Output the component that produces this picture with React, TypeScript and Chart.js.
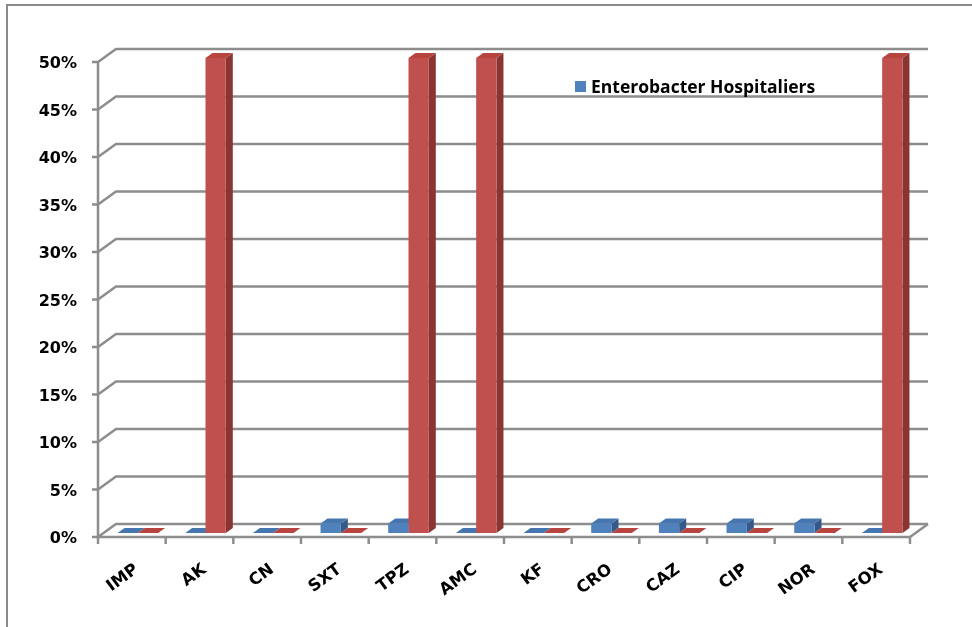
import React, { useEffect, useRef } from 'react';
import { Chart, registerables } from 'chart.js';

Chart.register(...registerables);

const categories = ['IMP', 'AK', 'CN', 'SXT', 'TPZ', 'AMC', 'KF', 'CRO', 'CAZ', 'CIP', 'NOR', 'FOX'];
const hospitaliers = [0, 0, 0, 1, 1, 0, 0, 1, 1, 1, 1, 0];
const secondSeries = [0, 50, 0, 0, 50, 50, 0, 0, 0, 0, 0, 50];
const legendLabel = 'Enterobacter Hospitaliers';
const yMax = 50;
const yStep = 5;

const FONT = "'Open Sans', 'DejaVu Sans', sans-serif";
const AXIS_FONT = "'DejaVu Sans', sans-serif";
const GRID = '#8d8d8d';
const WALL = { x: 18, y: -13 };
const BAR_OFF = { x: 6, y: -4 };
const BAR_DEPTH = { x: 7, y: -5 };

const shade: Record<string, { front: string; side: string; top: string }> = {
  blue: { front: '#4F81BD', side: '#36598A', top: '#4676B0' },
  red: { front: '#C0504D', side: '#8A3533', top: '#B8443F' },
};

const threeD = {
  id: 'threeD',
  beforeDraw(chart: any) {
    const ctx = chart.ctx;
    ctx.save();
    ctx.strokeStyle = '#8a8a8a';
    ctx.lineWidth = 2;
    ctx.strokeRect(7, 5, 1100, 1000);
    ctx.restore();
  },
  beforeDatasetsDraw(chart: any) {
    const ctx = chart.ctx;
    const { left, right, bottom } = chart.chartArea;
    const yScale = chart.scales.y;
    const xScale = chart.scales.x;
    ctx.save();
    ctx.strokeStyle = GRID;
    ctx.lineWidth = 2.5;
    for (let v = 0; v <= yMax; v += yStep) {
      const py = yScale.getPixelForValue(v);
      ctx.beginPath();
      ctx.moveTo(left - 6, py);
      ctx.lineTo(left, py);
      ctx.lineTo(left + WALL.x, py + WALL.y);
      ctx.lineTo(right + WALL.x, py + WALL.y);
      ctx.stroke();
    }
    ctx.beginPath();
    ctx.moveTo(left, bottom);
    ctx.lineTo(right, bottom);
    ctx.lineTo(right + WALL.x, bottom + WALL.y);
    ctx.stroke();
    ctx.beginPath();
    ctx.moveTo(left, yScale.getPixelForValue(yMax));
    ctx.lineTo(left, bottom);
    ctx.stroke();
    const n = categories.length;
    const step = xScale.getPixelForValue(1) - xScale.getPixelForValue(0);
    for (let i = 0; i <= n; i++) {
      const px = i < n ? xScale.getPixelForValue(i) - step / 2 : right;
      ctx.beginPath();
      ctx.moveTo(px, bottom);
      ctx.lineTo(px, bottom + 7);
      ctx.stroke();
    }
    const colors = ['blue', 'red'];
    chart.data.datasets.forEach((_: any, di: number) => {
      const meta = chart.getDatasetMeta(di);
      const c = shade[colors[di]];
      meta.data.forEach((el: any) => {
        const { x, y, base, width } = el.getProps(['x', 'y', 'base', 'width'], true);
        const x1 = x - width / 2 + BAR_OFF.x;
        const x2 = x + width / 2 + BAR_OFF.x;
        const yt = y + BAR_OFF.y;
        const yb = base + BAR_OFF.y;
        ctx.fillStyle = c.side;
        ctx.beginPath();
        ctx.moveTo(x2, yt);
        ctx.lineTo(x2 + BAR_DEPTH.x, yt + BAR_DEPTH.y);
        ctx.lineTo(x2 + BAR_DEPTH.x, yb + BAR_DEPTH.y);
        ctx.lineTo(x2, yb);
        ctx.closePath();
        ctx.fill();
        ctx.fillStyle = c.top;
        ctx.beginPath();
        ctx.moveTo(x1, yt);
        ctx.lineTo(x2, yt);
        ctx.lineTo(x2 + BAR_DEPTH.x, yt + BAR_DEPTH.y);
        ctx.lineTo(x1 + BAR_DEPTH.x, yt + BAR_DEPTH.y);
        ctx.closePath();
        ctx.fill();
      });
    });
    ctx.restore();
    ctx.save();
    ctx.translate(BAR_OFF.x, BAR_OFF.y);
  },
  afterDatasetsDraw(chart: any) {
    chart.ctx.restore();
  },
  afterDraw(chart: any) {
    const ctx = chart.ctx;
    ctx.save();
    ctx.fillStyle = shade.blue.front;
    ctx.fillRect(575, 81, 11, 11);
    ctx.fillStyle = '#000';
    ctx.font = `bold 17.5px ${FONT}`;
    ctx.textBaseline = 'alphabetic';
    ctx.textAlign = 'left';
    ctx.fillText(legendLabel, 591, 93);
    ctx.restore();
  },
};

export default function App() {
  const ref = useRef<HTMLCanvasElement>(null);
  useEffect(() => {
    if (!ref.current) return;
    const chart = new Chart(ref.current, {
      type: 'bar',
      data: {
        labels: categories,
        datasets: [
          { label: legendLabel, data: hospitaliers, backgroundColor: shade.blue.front, borderWidth: 0 },
          { label: '', data: secondSeries, backgroundColor: shade.red.front, borderWidth: 0 },
        ],
      },
      plugins: [threeD],
      options: {
        responsive: false,
        animation: false,
        devicePixelRatio: 1,
        layout: { padding: { left: 0, top: 62, right: 62, bottom: 0 } },
        datasets: { bar: { categoryPercentage: 0.6, barPercentage: 1.0 } },
        plugins: { legend: { display: false }, tooltip: { enabled: false } },
        scales: {
          x: {
            grid: { display: false },
            border: { display: false },
            ticks: {
              color: '#000',
              font: { family: AXIS_FONT, weight: 'bold', size: 16.5 },
              minRotation: 36,
              maxRotation: 36,
              padding: 15,
              labelOffset: 5,
              autoSkip: false,
            },
            afterFit: (s: any) => { s.height = 90; },
          },
          y: {
            min: 0,
            max: yMax,
            grid: { display: false },
            border: { display: false },
            ticks: {
              stepSize: yStep,
              color: '#000',
              font: { family: AXIS_FONT, weight: 'bold', size: 16 },
              padding: 13,
              labelOffset: 2,
              callback: (v: any) => `${v}%`,
            },
            afterFit: (s: any) => { s.width = 98; },
          },
        },
      },
    });
    return () => chart.destroy();
  }, []);
  return (
    <div style={{ position: 'absolute', left: 0, top: 0, width: 972, height: 627, background: '#fff' }}>
      <canvas ref={ref} width={972} height={627} />
    </div>
  );
}
